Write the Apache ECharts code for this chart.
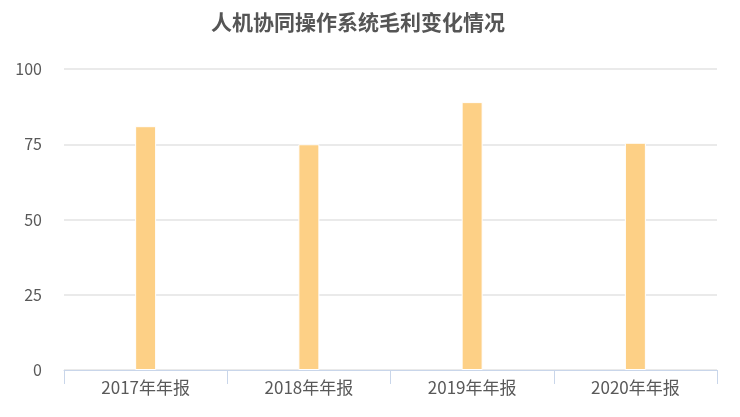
<!DOCTYPE html>
<html>
<head>
<meta charset="utf-8">
<script src="https://cdn.jsdelivr.net/npm/echarts@6/dist/echarts.min.js"></script>
<style>
  html, body { margin: 0; padding: 0; background: #fff; }
  #main { width: 740px; height: 417px; }
</style>
</head>
<body>
<div id="main"></div>
<script>
// 数据
var titleText = '人机协同操作系统毛利变化情况';
var categories = ['2017年年报', '2018年年报', '2019年年报', '2020年年报'];
var grossValues = [81, 75, 89, 75.5];

var chart = echarts.init(document.getElementById('main'));
chart.setOption({
  animation: false,
  title: {
    text: titleText,
    left: 206,
    top: 7,
    textStyle: {
      color: '#555555',
      fontSize: 21,
      fontWeight: 'bold',
      fontFamily: 'Noto Sans CJK SC'
    }
  },
  grid: { left: 64, right: 23, top: 69, bottom: 47 },
  xAxis: {
    type: 'category',
    data: categories,
    axisLine: { lineStyle: { color: '#c9d6ea', width: 1 } },
    axisTick: { show: true, length: 14, lineStyle: { color: '#c9d6ea' } },
    axisLabel: { color: '#595959', fontSize: 17, margin: 9, fontFamily: 'Noto Sans CJK SC' }
  },
  yAxis: {
    type: 'value',
    min: 0,
    max: 100,
    interval: 25,
    axisLine: { show: false },
    axisTick: { show: false },
    axisLabel: { color: '#595959', fontSize: 16, margin: 22, fontFamily: 'Noto Sans CJK SC' },
    splitLine: { lineStyle: { color: '#e3e3e3', width: 1.5 } }
  },
  series: [{
    type: 'bar',
    data: grossValues,
    barWidth: 21,
    itemStyle: { color: '#fdd086', borderColor: '#ffffff', borderWidth: 1 }
  }]
});
</script>
</body>
</html>
